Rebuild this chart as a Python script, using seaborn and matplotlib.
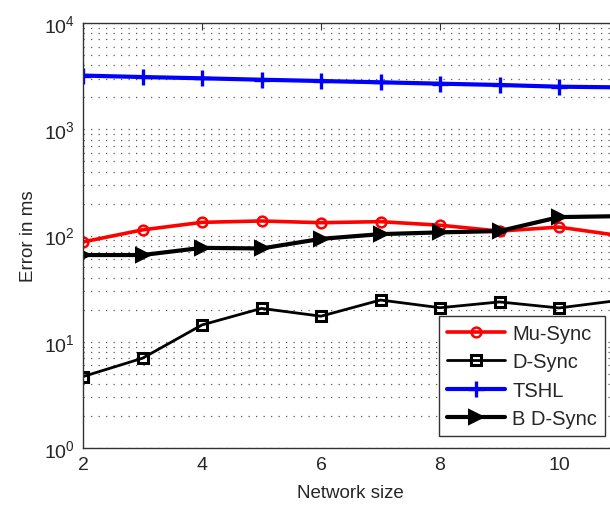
import matplotlib
matplotlib.use("Agg")
import matplotlib.pyplot as plt
import seaborn as sns
import numpy as np
import pandas as pd
from matplotlib.ticker import LogLocator, NullFormatter, FixedLocator

network_size = [2, 3, 4, 5, 6, 7, 8, 9, 10, 11]
mu_sync = [87, 113, 133, 137, 132, 135, 125, 110, 120, 100]
d_sync = [4.7, 7.0, 14.4, 20.6, 17.4, 24.7, 20.9, 23.7, 20.8, 24.5]
tshl = [3200, 3100, 3017, 2925, 2844, 2766, 2685, 2610, 2515, 2480]
b_d_sync = [65.5, 65.5, 76.5, 75.5, 93, 103, 107, 110, 149, 152]
x_ticks = [2, 4, 6, 8, 10]

sns.set_style("white")
plt.rcParams['font.family'] = ['Liberation Sans', 'DejaVu Sans']
plt.rcParams['mathtext.fontset'] = 'custom'
plt.rcParams['mathtext.rm'] = 'Liberation Sans'
plt.rcParams['mathtext.it'] = 'Liberation Sans'
plt.rcParams['mathtext.default'] = 'regular'

fig = plt.figure(figsize=(6.10, 5.06), dpi=100)
ax = fig.add_axes([83/610, 57/506, (618.5-83)/610, 425/506])

series = [
    ("Mu-Sync", mu_sync, dict(color="#ff0000", marker="o", linewidth=2.6, markersize=7,
                              markerfacecolor="none", markeredgecolor="#ff0000", markeredgewidth=1.8)),
    ("D-Sync", d_sync, dict(color="black", marker="s", linewidth=2.0, markersize=7.5,
                            markerfacecolor="none", markeredgecolor="black", markeredgewidth=2.2)),
    ("TSHL", tshl, dict(color="#0000ff", marker="+", linewidth=3.0, markersize=11,
                        markeredgecolor="#0000ff", markeredgewidth=2.4)),
    ("B D-Sync", b_d_sync, dict(color="black", marker=">", linewidth=3.0, markersize=9.5,
                                markerfacecolor="black", markeredgecolor="black", markeredgewidth=1.5)),
]
for name, vals, st in series:
    sns.lineplot(x=network_size, y=vals, ax=ax, label=name, **st)

ax.set_yscale("log")
ax.set_xlim(2, 11)
ax.set_ylim(1, 1e4)
ax.xaxis.set_major_locator(FixedLocator(x_ticks))
ax.yaxis.set_major_locator(LogLocator(base=10, numticks=10))
ax.yaxis.set_minor_locator(LogLocator(base=10, subs=np.arange(2, 10), numticks=100))
ax.yaxis.set_minor_formatter(NullFormatter())

ax.grid(False)
ax.yaxis.grid(True, which="both", linestyle=(0, (1, 5)), color="#222222", lw=0.9, alpha=0.75)
ax.set_axisbelow(True)

for s in ax.spines.values():
    s.set_color("#333333")
    s.set_linewidth(1.0)

ax.tick_params(axis="both", which="both", direction="in", top=True, right=True,
               labelsize=14, length=5, color="#333333")
ax.tick_params(axis="y", which="minor", length=3)
ax.tick_params(axis="x", pad=6)
ax.tick_params(axis="y", pad=6)

ax.set_xlabel("Network size", fontsize=13.5, labelpad=8)
ax.set_ylabel("Error in ms", fontsize=13.5, labelpad=5)

leg = ax.legend(loc="lower right", bbox_to_anchor=(605/610, 69/506),
                bbox_transform=fig.transFigure, fontsize=14.5, frameon=True,
                fancybox=False, edgecolor="#333333", framealpha=1,
                handlelength=2.9, borderpad=0.4, labelspacing=0.46, handletextpad=0.35,
                borderaxespad=0)
leg.get_frame().set_linewidth(1.0)

fig.savefig("out.png", dpi=100)
